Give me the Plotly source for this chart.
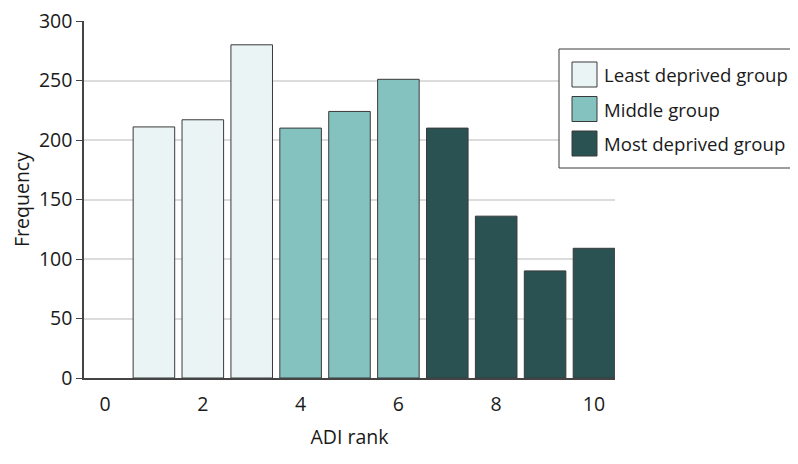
import plotly.graph_objects as go

groups = ["Least deprived group", "Middle group", "Most deprived group"]
group_ranks = [[1, 2, 3], [4, 5, 6], [7, 8, 9, 10]]
group_freq = [[211, 217, 280], [210, 224, 251], [210, 136, 90, 109]]
group_colors = ["#EAF4F5", "#84C2C0", "#2A5253"]

x_ticks = [0, 2, 4, 6, 8, 10]
y_ticks = [0, 50, 100, 150, 200, 250, 300]

FONT = "Open Sans"
FS = 19.5
W, H = 790, 456
L, T = 76, 13
PW, PH = 531, 357
R, B = W - L - PW, H - T - PH


def px(x):
    # page pixel -> paper fraction (page has an 8px body margin)
    return (x - 8 - L) / PW


def py(y):
    return (H - B - (y - 8)) / PH


fig = go.Figure()
for name, xs, ys, col in zip(groups, group_ranks, group_freq, group_colors):
    fig.add_trace(go.Bar(
        x=xs, y=ys, name=name, width=0.85, showlegend=False,
        marker=dict(color=col, line=dict(color="#3a3a3a", width=1)),
    ))

# legend drawn as layout decoration (large square swatches like the reference)
shapes = [dict(type="rect", xref="paper", yref="paper",
               x0=px(559), x1=px(792), y0=py(168), y1=py(49),
               line=dict(color="#3a3a3a", width=1), fillcolor="white", layer="above")]
annotations = []
row_tops = [62, 96.5, 131]
for name, col, top in zip(groups, group_colors, row_tops):
    shapes.append(dict(type="rect", xref="paper", yref="paper",
                       x0=px(572), x1=px(597), y0=py(top + 25), y1=py(top),
                       line=dict(color="#3a3a3a", width=1), fillcolor=col, layer="above"))
    annotations.append(dict(xref="paper", yref="paper", x=px(602), y=py(top + 12.5),
                            xanchor="left", yanchor="middle", text=name, showarrow=False,
                            font=dict(family=FONT, size=18.6, color="#1a1a1a")))

fig.update_layout(
    width=W, height=H,
    margin=dict(l=L, r=R, t=T, b=B),
    paper_bgcolor="white", plot_bgcolor="white",
    font=dict(family=FONT, size=FS, color="#1a1a1a"),
    barmode="overlay",
    showlegend=False,
    shapes=shapes,
    annotations=annotations,
    xaxis=dict(
        range=[-0.43, 10.43],
        tickvals=x_ticks,
        showgrid=False, zeroline=False,
        showline=True, linecolor="#444", linewidth=1.5,
        ticks="", ticklen=0,
        ticklabelstandoff=8,
        ticklabeloverflow="allow",
        automargin=False,
        title=dict(text="ADI rank", font=dict(family=FONT, size=FS), standoff=14),
        tickfont=dict(family=FONT, size=FS),
    ),
    yaxis=dict(
        range=[0, 300],
        tickvals=y_ticks,
        showgrid=True, gridcolor="#dcdcdc", gridwidth=1.5,
        zeroline=False,
        showline=True, linecolor="#444", linewidth=1.5,
        ticks="outside", ticklen=6, tickcolor="#444",
        ticklabeloverflow="allow",
        automargin=False,
        title=dict(text="Frequency", font=dict(family=FONT, size=FS), standoff=23),
        tickfont=dict(family=FONT, size=FS),
    ),
)

fig.write_html("out.html")
